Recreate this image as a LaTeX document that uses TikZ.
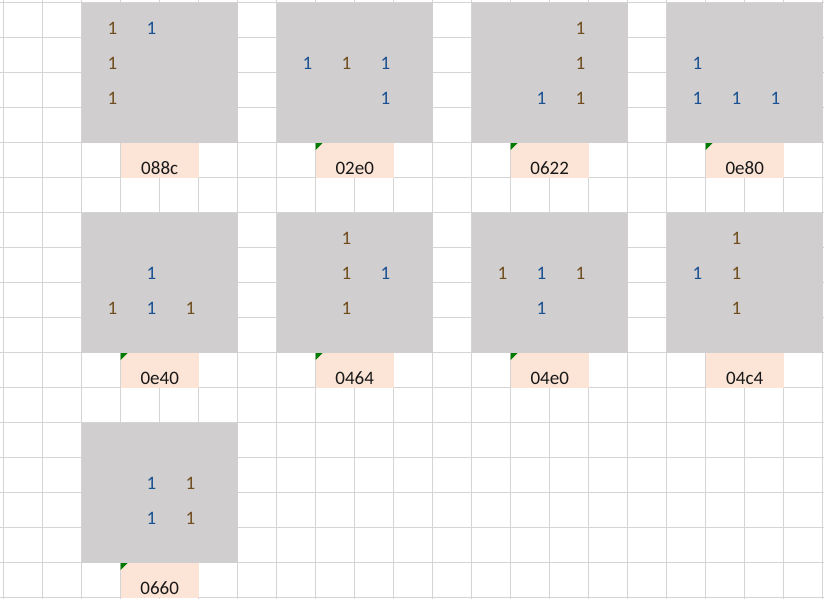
\documentclass[tikz,border=0pt]{standalone}
\usepackage{fontspec}
\setmainfont{Carlito}
\usetikzlibrary{positioning, calc}

\definecolor{gridgray}{HTML}{D4D4D4}
\definecolor{cellgray}{HTML}{D0CECE}
\definecolor{cellpeach}{HTML}{FCE4D6}
\definecolor{brownone}{RGB}{112,76,28}
\definecolor{blueone}{RGB}{24,80,145}
\definecolor{errgreen}{HTML}{007A00}

\begin{document}
\begin{tikzpicture}[x=1pt, y=-1pt,
    gridline/.style={draw=gridgray, line width=0.9pt},
    block/.style={fill=cellgray, minimum width=156pt, minimum height=140pt, inner sep=0pt, anchor=north west},
    tag/.style={fill=cellpeach, minimum width=78pt, inner sep=0pt, text height=31.5pt, text depth=3.5pt, anchor=north west, text=black!90, font=\fontsize{19}{21}\selectfont},
    one/.style={anchor=base east, inner sep=0pt, font=\fontsize{19}{21}\selectfont},
    flag/.style={fill=errgreen}]
    \useasboundingbox (0,0) rectangle (824,599);

    % sheet grid
    \foreach \i in {0,...,21}
        \draw[gridline] (3.5+39*\i,0) -- (3.5+39*\i,599);
    \foreach \j in {0,...,17}
        \draw[gridline] (0,2.7+35*\j) -- (824,2.7+35*\j);

    % first row of shapes
    \node[block] (b088c) at (81.5,2.7) {};
    \node[tag] (t088c) at ($(b088c.south west)+(39,0)$) {088c};
    \foreach \c/\r/\t in {0/0/brownone, 1/0/blueone, 0/1/brownone, 0/2/brownone}
        \node[one, text=\t] (b088c-\c\r) at ($(b088c.north west)+(36+39*\c,31.6+35*\r)$) {1};

    \node[block] (b02e0) at (276.5,2.7) {};
    \node[tag] (t02e0) at ($(b02e0.south west)+(39,0)$) {02e0};
    \fill[flag] (t02e0.north west) -- ++(7,0) -- ++(-7,7) -- cycle;
    \foreach \c/\r/\t in {0/1/blueone, 1/1/brownone, 2/1/blueone, 2/2/blueone}
        \node[one, text=\t] (b02e0-\c\r) at ($(b02e0.north west)+(36+39*\c,31.6+35*\r)$) {1};

    \node[block] (b0622) at (471.5,2.7) {};
    \node[tag] (t0622) at ($(b0622.south west)+(39,0)$) {0622};
    \fill[flag] (t0622.north west) -- ++(7,0) -- ++(-7,7) -- cycle;
    \foreach \c/\r/\t in {2/0/brownone, 2/1/brownone, 1/2/blueone, 2/2/brownone}
        \node[one, text=\t] (b0622-\c\r) at ($(b0622.north west)+(36+39*\c,31.6+35*\r)$) {1};

    \node[block] (b0e80) at (666.5,2.7) {};
    \node[tag] (t0e80) at ($(b0e80.south west)+(39,0)$) {0e80};
    \fill[flag] (t0e80.north west) -- ++(7,0) -- ++(-7,7) -- cycle;
    \foreach \c/\r/\t in {0/1/blueone, 0/2/blueone, 1/2/blueone, 2/2/blueone}
        \node[one, text=\t] (b0e80-\c\r) at ($(b0e80.north west)+(36+39*\c,31.6+35*\r)$) {1};

    % second row of shapes
    \node[block] (b0e40) at (81.5,212.7) {};
    \node[tag] (t0e40) at ($(b0e40.south west)+(39,0)$) {0e40};
    \fill[flag] (t0e40.north west) -- ++(7,0) -- ++(-7,7) -- cycle;
    \foreach \c/\r/\t in {1/1/blueone, 0/2/brownone, 1/2/blueone, 2/2/brownone}
        \node[one, text=\t] (b0e40-\c\r) at ($(b0e40.north west)+(36+39*\c,31.6+35*\r)$) {1};

    \node[block] (b0464) at (276.5,212.7) {};
    \node[tag] (t0464) at ($(b0464.south west)+(39,0)$) {0464};
    \fill[flag] (t0464.north west) -- ++(7,0) -- ++(-7,7) -- cycle;
    \foreach \c/\r/\t in {1/0/brownone, 1/1/brownone, 2/1/blueone, 1/2/brownone}
        \node[one, text=\t] (b0464-\c\r) at ($(b0464.north west)+(36+39*\c,31.6+35*\r)$) {1};

    \node[block] (b04e0) at (471.5,212.7) {};
    \node[tag] (t04e0) at ($(b04e0.south west)+(39,0)$) {04e0};
    \fill[flag] (t04e0.north west) -- ++(7,0) -- ++(-7,7) -- cycle;
    \foreach \c/\r/\t in {0/1/brownone, 1/1/blueone, 2/1/brownone, 1/2/blueone}
        \node[one, text=\t] (b04e0-\c\r) at ($(b04e0.north west)+(36+39*\c,31.6+35*\r)$) {1};

    \node[block] (b04c4) at (666.5,212.7) {};
    \node[tag] (t04c4) at ($(b04c4.south west)+(39,0)$) {04c4};
    \foreach \c/\r/\t in {1/0/brownone, 0/1/blueone, 1/1/brownone, 1/2/brownone}
        \node[one, text=\t] (b04c4-\c\r) at ($(b04c4.north west)+(36+39*\c,31.6+35*\r)$) {1};

    % third row
    \node[block] (b0660) at (81.5,422.7) {};
    \node[tag] (t0660) at ($(b0660.south west)+(39,0)$) {0660};
    \fill[flag] (t0660.north west) -- ++(7,0) -- ++(-7,7) -- cycle;
    \foreach \c/\r/\t in {1/1/blueone, 2/1/brownone, 1/2/blueone, 2/2/brownone}
        \node[one, text=\t] (b0660-\c\r) at ($(b0660.north west)+(36+39*\c,31.6+35*\r)$) {1};
\end{tikzpicture}
\end{document}
